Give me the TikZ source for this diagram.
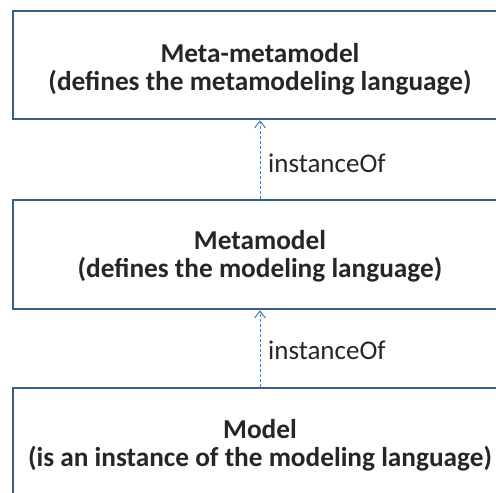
\documentclass[tikz,border=0pt]{standalone}
\usepackage{fontspec}
\setmainfont{Carlito}
\usetikzlibrary{arrows.meta}
\definecolor{boxline}{RGB}{56,93,138}
\definecolor{conncol}{RGB}{74,126,187}
\definecolor{txt}{RGB}{38,38,38}
\tikzset{
  box/.style={draw=boxline, line width=2.5bp, fill=white, minimum width=494bp, inner sep=0pt},
  title/.style={align=center, font=\fontsize{27.3bp}{27.5bp}\selectfont\bfseries, inner sep=0pt, text=txt},
  conn/.style={draw=conncol, line width=1bp, dash pattern=on 3bp off 2bp, -{Straight Barb[length=7bp,width=11bp,line width=1bp]}},
  lbl/.style={anchor=west, font=\fontsize{27bp}{27.5bp}\selectfont, inner sep=0pt, text=txt}
}
\begin{document}
\begin{tikzpicture}[x=1bp, y=-1bp]
\useasboundingbox (0,0) rectangle (496,493);
\node[box, minimum height=108bp] (mmm) at (260,65) {};
\node[box, minimum height=109bp] (mm) at (260,254.5) {};
\node[box, minimum height=112bp] (m) at (260,444) {};
\node[title] (mmmt) at (260,69) {Meta-metamodel\\(defines the metamodeling language)};
\node[title] (mmt) at (260,256) {Metamodel\\(defines the modeling language)};
\node[title] (mt) at (260,445) {Model\\(is an instance of the modeling language)};
\draw[conn] (mm.north) -- (mmm.south);
\draw[conn] (m.north) -- (mm.south);
\node[lbl] (l1) at (268,163) {instanceOf};
\node[lbl] (l2) at (268,350) {instanceOf};
\end{tikzpicture}
\end{document}
